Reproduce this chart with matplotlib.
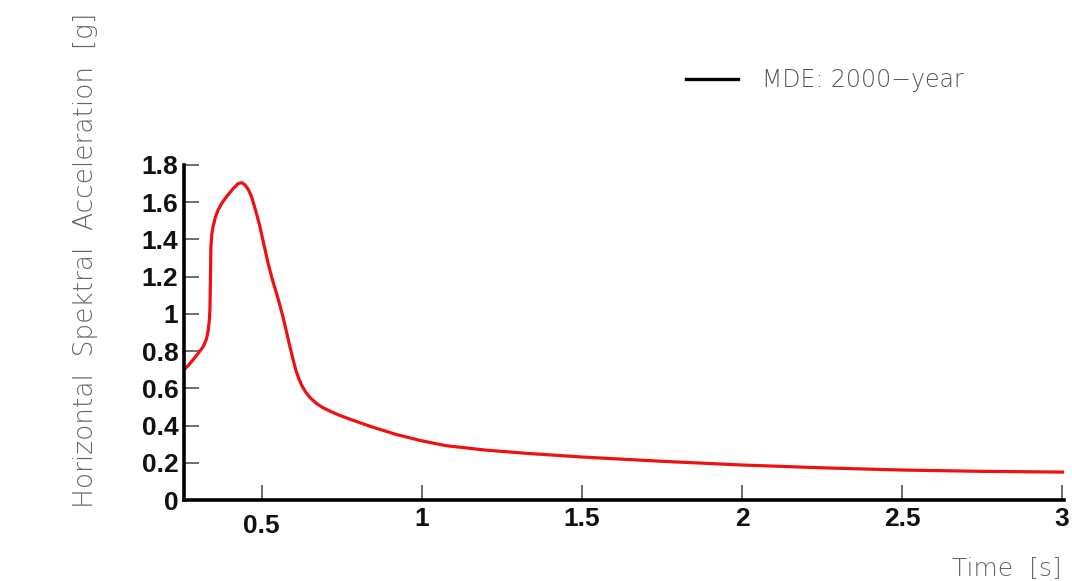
import matplotlib
matplotlib.use("Agg")
import matplotlib.pyplot as plt
from matplotlib.lines import Line2D

# response spectrum (period s, acceleration g)
period = [0.257, 0.270, 0.285, 0.300, 0.317, 0.327, 0.333, 0.336, 0.338, 0.339,
          0.340, 0.341, 0.344, 0.348, 0.355, 0.364, 0.376, 0.390, 0.408, 0.426,
          0.437, 0.447, 0.458, 0.468, 0.481, 0.494, 0.507, 0.520, 0.533, 0.546,
          0.556, 0.566, 0.577, 0.587, 0.597, 0.606, 0.615, 0.625, 0.637, 0.652,
          0.670, 0.690, 0.712, 0.740, 0.774, 0.84, 0.920, 1.0, 1.075, 1.2,
          1.325, 1.5, 1.75, 2.0, 2.25, 2.5, 2.75, 3.0, 3.01]
accel = [0.700, 0.722, 0.753, 0.785, 0.824, 0.865, 0.914, 0.965, 1.02, 1.13,
         1.237, 1.36, 1.43, 1.47, 1.52, 1.56, 1.597, 1.630, 1.668, 1.700,
         1.705, 1.694, 1.668, 1.630, 1.555, 1.470, 1.370, 1.270, 1.185, 1.110,
         1.050, 0.985, 0.905, 0.830, 0.760, 0.700, 0.655, 0.615, 0.580, 0.548,
         0.520, 0.497, 0.478, 0.457, 0.435, 0.395, 0.352, 0.318, 0.292, 0.268,
         0.251, 0.231, 0.208, 0.188, 0.173, 0.161, 0.154, 0.150, 0.150]

x_ticks = [0.5, 1, 1.5, 2, 2.5, 3]
x_ticklabels = ["0.5", "1", "1.5", "2", "2.5", "3"]
y_ticks = [0, 0.2, 0.4, 0.6, 0.8, 1, 1.2, 1.4, 1.6, 1.8]
y_ticklabels = ["0", "0.2", "0.4", "0.6", "0.8", "1", "1.2", "1.4", "1.6", "1.8"]

W, H = 1072, 581
fig = plt.figure(figsize=(W / 100, H / 100), dpi=100)
ax = fig.add_axes([184 / W, 81 / H, 880 / W, 335 / H])

ax.plot(period, accel, color="#ee1111", lw=2.3, solid_capstyle="round",
        solid_joinstyle="round")

ax.set_xlim(0.257, 3.006)
ax.set_ylim(0, 1.8)
ax.set_xticks(x_ticks)
ax.set_xticklabels(x_ticklabels)
ax.set_yticks(y_ticks)
ax.set_yticklabels(y_ticklabels)

for side in ["top", "right"]:
    ax.spines[side].set_visible(False)
for side in ["left", "bottom"]:
    ax.spines[side].set_linewidth(2.6)
    ax.spines[side].set_color("black")

ax.tick_params(direction="in", length=11, width=1.2, color="#555555",
               labelsize=19, pad=4)
for lab in ax.get_xticklabels() + ax.get_yticklabels():
    lab.set_fontfamily("Liberation Sans")
    lab.set_fontweight("bold")
    lab.set_color("#111111")
ax.tick_params(axis="x", pad=5)
ax.xaxis.get_major_ticks()[0].set_pad(10)

label_kw = dict(color="#666666", fontfamily="DejaVu Sans", fontweight="light")
fig.text(86 / W, 1 - 260 / H, "Horizontal  Spektral  Acceleration  [g]",
         rotation=90, ha="center", va="center", fontsize=19, **label_kw)
fig.text(1062 / W, 1 - 569 / H, "Time  [s]", ha="right", va="center",
         fontsize=18, **label_kw)

handle = Line2D([], [], color="black", lw=2.4)
leg = fig.legend([handle], ["MDE: 2000\u2212year"], loc="center left",
                 bbox_to_anchor=(686 / W, 1 - 80 / H), frameon=False,
                 borderpad=0, borderaxespad=0, handlelength=2.2,
                 handletextpad=1.0, prop={"family": "DejaVu Sans",
                                          "weight": "light", "size": 17})
for t in leg.get_texts():
    t.set_color("#555555")

fig.savefig("out.png", dpi=100)
